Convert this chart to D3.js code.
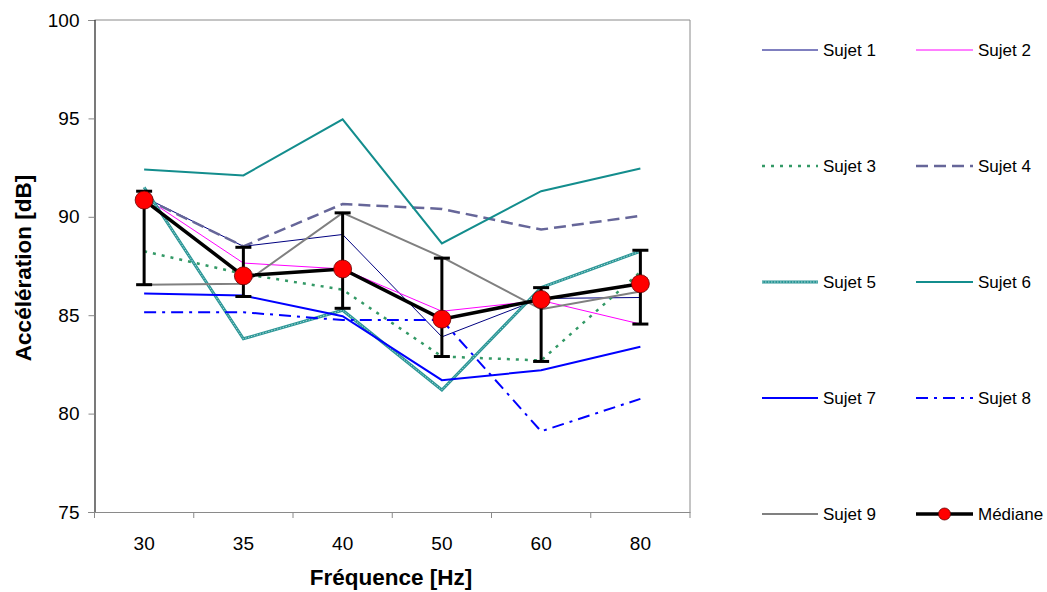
<!DOCTYPE html>
<html>
<head>
<meta charset="utf-8">
<script src="https://cdn.jsdelivr.net/npm/d3@7"></script>
<style>
  html, body { margin: 0; padding: 0; background: #fff; }
  svg { display: block; font-family: "Liberation Sans", Arial, sans-serif; }
</style>
</head>
<body>
<svg id="chart" width="1047" height="592"></svg>
<script>
// ---------- DATA ----------
const categories = ["30", "35", "40", "50", "60", "80"];
const yTicks = [75, 80, 85, 90, 95, 100];

const sujet1 = [91.0, 88.5, 89.1, 83.9, 85.85, 85.9];
const sujet2 = [91.0, 87.65, 87.35, 85.2, 85.75, 84.55];
const sujet3 = [88.25, 87.1, 86.3, 82.9, 82.7, 87.2];
const sujet4 = [90.95, 88.5, 90.65, 90.4, 89.35, 90.05];
const sujet5 = [91.5, 83.8, 85.25, 81.2, 86.4, 88.25];
const sujet6 = [92.4, 92.1, 94.95, 88.65, 91.3, 92.45];
const sujet7 = [86.1, 86.0, 84.95, 81.7, 82.2, 83.4];
const sujet8 = [85.15, 85.15, 84.75, 84.75, 79.1, 80.75];
const sujet9 = [86.55, 86.6, 90.2, 87.95, 85.3, 86.2];
const mediane = [90.85, 87.0, 87.35, 84.8, 85.8, 86.6];
const errHigh = [91.3, 88.45, 90.2, 87.9, 86.4, 88.3];
const errLow  = [86.55, 85.95, 85.35, 82.9, 82.65, 84.55];

const seriesNames = ["Sujet 1","Sujet 2","Sujet 3","Sujet 4","Sujet 5","Sujet 6","Sujet 7","Sujet 8","Sujet 9"];
const seriesValues = [sujet1, sujet2, sujet3, sujet4, sujet5, sujet6, sujet7, sujet8, sujet9];

// ---------- STYLES ----------
const styles = [
  { color: "#000080", width: 1, dash: null },
  { color: "#ff00ff", width: 1, dash: null },
  { color: "#339966", width: 2.5, dash: "3,6" },
  { color: "#666699", width: 2.5, dash: "12,6" },
  { color: "#2a9696", width: 3, dash: null, pattern: true },
  { color: "#138d8d", width: 2, dash: null },
  { color: "#0000ff", width: 2, dash: null },
  { color: "#0000ff", width: 2, dash: "12,6,3,6" },
  { color: "#808080", width: 2, dash: null }
];

const svg = d3.select("#chart");
const plot = { left: 94.5, right: 690, top: 20, bottom: 512 };

const x = d3.scaleBand().domain(categories).range([plot.left, plot.right]).padding(0);
const y = d3.scaleLinear().domain([75, 100]).range([plot.bottom, plot.top]);
const cx = c => x(c) + x.bandwidth() / 2;

// frame (top/right gray)
svg.append("line").attr("x1", plot.left).attr("x2", plot.right).attr("y1", plot.top).attr("y2", plot.top)
  .attr("stroke", "#8a8a8a").attr("stroke-width", 1);
svg.append("line").attr("x1", plot.right).attr("x2", plot.right).attr("y1", plot.top).attr("y2", plot.bottom)
  .attr("stroke", "#8a8a8a").attr("stroke-width", 1);

// y axis
const yAxis = svg.append("g").attr("transform", `translate(${plot.left},0)`)
  .call(d3.axisLeft(y).tickValues(yTicks).tickSize(6).tickPadding(9).tickFormat(d3.format("d")));
yAxis.select(".domain").attr("stroke", "#222").attr("stroke-width", 1.2);
yAxis.selectAll(".tick line").attr("stroke", "#888");
yAxis.selectAll(".tick text").attr("font-size", 19).attr("fill", "#000")
  .attr("font-family", "Liberation Sans, Arial, sans-serif");

// x axis
const xAxis = svg.append("g").attr("transform", `translate(0,${plot.bottom})`)
  .call(d3.axisBottom(x).tickSize(0).tickPadding(25));
xAxis.select(".domain").attr("stroke", "#8a8a8a").attr("stroke-width", 1.2);
xAxis.selectAll(".tick text").attr("font-size", 19).attr("fill", "#000")
  .attr("font-family", "Liberation Sans, Arial, sans-serif");
// x tick marks at category boundaries
const boundaries = categories.map(c => x(c)).concat([plot.right]);
svg.append("g").selectAll("line").data(boundaries).join("line")
  .attr("x1", d => d).attr("x2", d => d)
  .attr("y1", plot.bottom).attr("y2", plot.bottom + 6)
  .attr("stroke", "#8a8a8a").attr("stroke-width", 1);

// axis titles
svg.append("text").attr("x", 391).attr("y", 585).attr("text-anchor", "middle")
  .attr("font-size", 22.5).attr("font-weight", "bold").text("Fréquence [Hz]");
svg.append("text").attr("transform", "translate(31,268) rotate(-90)").attr("text-anchor", "middle")
  .attr("font-size", 22.5).attr("font-weight", "bold").text("Accélération [dB]");

// series lines
const line = d3.line().x((d, i) => cx(categories[i])).y(d => y(d));
const gSeries = svg.append("g");
seriesValues.forEach((vals, k) => {
  const s = styles[k];
  gSeries.append("path").datum(vals).attr("d", line).attr("fill", "none")
    .attr("stroke", s.color).attr("stroke-width", s.width)
    .attr("stroke-dasharray", s.dash).attr("stroke-linejoin", "miter");
  if (s.pattern) {
    gSeries.append("path").datum(vals).attr("d", line).attr("fill", "none")
      .attr("stroke", "#a9d6d6").attr("stroke-width", 1).attr("stroke-dasharray", "1.5,1.5");
  }
});

// error bars
const gErr = svg.append("g").attr("stroke", "#000").attr("stroke-width", 3);
categories.forEach((c, i) => {
  gErr.append("line").attr("x1", cx(c)).attr("x2", cx(c)).attr("y1", y(errHigh[i])).attr("y2", y(errLow[i]));
  gErr.append("line").attr("x1", cx(c) - 8).attr("x2", cx(c) + 8).attr("y1", y(errHigh[i])).attr("y2", y(errHigh[i]));
  gErr.append("line").attr("x1", cx(c) - 8).attr("x2", cx(c) + 8).attr("y1", y(errLow[i])).attr("y2", y(errLow[i]));
});

// median
svg.append("path").datum(mediane).attr("d", line).attr("fill", "none")
  .attr("stroke", "#000").attr("stroke-width", 3.5);
svg.append("g").selectAll("circle").data(mediane).join("circle")
  .attr("cx", (d, i) => cx(categories[i])).attr("cy", d => y(d)).attr("r", 9)
  .attr("fill", "#ff0000").attr("stroke", "#600").attr("stroke-width", 0.8);

// legend
const legendItems = seriesNames.map((n, k) => ({ name: n, style: styles[k] }))
  .concat([{ name: "Médiane", median: true }]);
const legCols = [{ x1: 762, x2: 818, tx: 823 }, { x1: 916, x2: 973, tx: 978 }];
const legRows = [50, 166, 282, 398, 514];
const gLeg = svg.append("g");
legendItems.forEach((it, k) => {
  const col = legCols[k % 2], ry = legRows[Math.floor(k / 2)];
  if (it.median) {
    gLeg.append("line").attr("x1", col.x1).attr("x2", col.x2).attr("y1", ry).attr("y2", ry)
      .attr("stroke", "#000").attr("stroke-width", 3.5);
    gLeg.append("circle").attr("cx", (col.x1 + col.x2) / 2).attr("cy", ry).attr("r", 6)
      .attr("fill", "#ff0000").attr("stroke", "#600").attr("stroke-width", 0.8);
  } else {
    const s = it.style;
    gLeg.append("line").attr("x1", col.x1).attr("x2", col.x2).attr("y1", ry).attr("y2", ry)
      .attr("stroke", s.color).attr("stroke-width", s.width).attr("stroke-dasharray", s.dash);
    if (s.pattern) {
      gLeg.append("line").attr("x1", col.x1).attr("x2", col.x2).attr("y1", ry).attr("y2", ry)
        .attr("stroke", "#a9d6d6").attr("stroke-width", 1).attr("stroke-dasharray", "1.5,1.5");
    }
  }
  gLeg.append("text").attr("x", col.tx).attr("y", ry).attr("dy", "0.35em")
    .attr("font-size", 17).attr("fill", "#000").text(it.name);
});
</script>
</body>
</html>
